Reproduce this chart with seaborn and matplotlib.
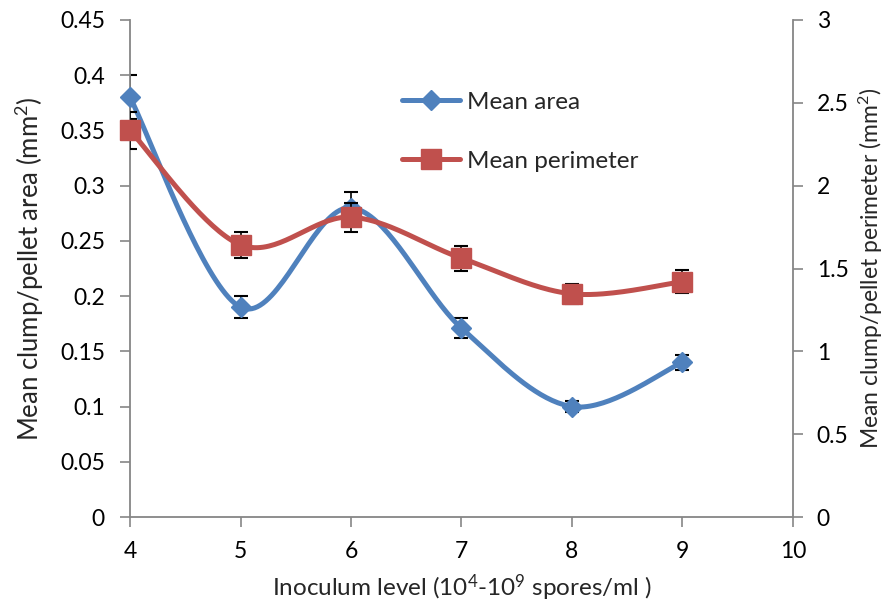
import numpy as np
import pandas as pd
import matplotlib
matplotlib.use("Agg")
import matplotlib.pyplot as plt
from matplotlib.lines import Line2D
import seaborn as sns

# ---- data ----
inoculum = [4, 5, 6, 7, 8, 9]
mean_area = [0.38, 0.19, 0.28, 0.171, 0.10, 0.14]
area_err = [0.02, 0.01, 0.014, 0.009, 0.005, 0.007]
mean_perimeter = [2.333, 1.643, 1.81, 1.562, 1.347, 1.42]
perimeter_err = [0.11, 0.08, 0.087, 0.075, 0.06, 0.07]

x_ticks = [4, 5, 6, 7, 8, 9, 10]
left_ticks = [0, 0.05, 0.1, 0.15, 0.2, 0.25, 0.3, 0.35, 0.4, 0.45]
right_ticks = [0, 0.5, 1, 1.5, 2, 2.5, 3]

BLUE = "#4F81BD"
RED = "#C0504D"

sns.set_theme(style="white")
plt.rcParams["font.family"] = ["Lato", "DejaVu Sans"]
plt.rcParams["mathtext.fontset"] = "custom"
plt.rcParams["mathtext.rm"] = "Lato"
plt.rcParams["mathtext.it"] = "Lato"


def smooth(xs, ys, n=40):
    """Excel-like smoothed line (Catmull-Rom / cubic Bezier through the points)."""
    xs = np.asarray(xs, float)
    ys = np.asarray(ys, float)
    P = np.column_stack([xs, ys])
    out = []
    for i in range(len(P) - 1):
        p0 = P[i - 1] if i > 0 else P[i]
        p1 = P[i]
        p2 = P[i + 1]
        p3 = P[i + 2] if i + 2 < len(P) else P[i + 1]
        c1 = p1 + (p2 - p0) / 6.0
        c2 = p2 - (p3 - p1) / 6.0
        t = np.linspace(0, 1, n)[:, None]
        seg = ((1 - t) ** 3) * p1 + 3 * ((1 - t) ** 2) * t * c1 + 3 * (1 - t) * t ** 2 * c2 + t ** 3 * p2
        out.append(seg if i == 0 else seg[1:])
    arr = np.vstack(out)
    return pd.DataFrame({"x": arr[:, 0], "y": arr[:, 1]})


fig = plt.figure(figsize=(8.87, 6.05), dpi=100)
ax = fig.add_axes([130 / 887, 1 - 517 / 605, (793 - 130) / 887, (517 - 20) / 605])
ax2 = ax.twinx()

# area (left axis)
ax.errorbar(inoculum, mean_area, yerr=area_err, fmt="none", ecolor="black",
            elinewidth=1.2, capsize=5, capthick=1.5, zorder=2)
sns.lineplot(data=smooth(inoculum, mean_area), x="x", y="y", ax=ax, color=BLUE,
             linewidth=3.6, sort=False, zorder=3)
ax.plot(inoculum, mean_area, linestyle="none", marker="D", markersize=10,
        color=BLUE, zorder=4, clip_on=False)

# perimeter (right axis)
ax2.errorbar(inoculum, mean_perimeter, yerr=perimeter_err, fmt="none", ecolor="black",
             elinewidth=1.2, capsize=5, capthick=1.5, zorder=2)
sns.lineplot(data=smooth(inoculum, mean_perimeter), x="x", y="y", ax=ax2, color=RED,
             linewidth=3.6, sort=False, zorder=3)
ax2.plot(inoculum, mean_perimeter, linestyle="none", marker="s", markersize=14,
         color=RED, zorder=4, clip_on=False)

ax.set_xlim(4, 10)
ax.set_ylim(0, 0.45)
ax2.set_ylim(0, 3)
ax.set_xticks(x_ticks)
ax.set_xticklabels([str(v) for v in x_ticks])
ax.set_yticks(left_ticks)
ax.set_yticklabels([f"{v:g}" for v in left_ticks])
ax2.set_yticks(right_ticks)
ax2.set_yticklabels([f"{v:g}" for v in right_ticks])

for a in (ax, ax2):
    for s in a.spines.values():
        s.set_visible(False)
ax.spines["left"].set_visible(True)
ax.spines["bottom"].set_visible(True)
ax2.spines["right"].set_visible(True)
for s in (ax.spines["left"], ax.spines["bottom"], ax2.spines["right"]):
    s.set_color("#868686")
    s.set_linewidth(1.3)

ax.tick_params(axis="both", which="major", direction="out", length=7, width=1.2,
               color="#868686", labelsize=16.5, labelcolor="black", pad=11,
               left=True, bottom=True)
ax.tick_params(axis="x", pad=10)
ax2.tick_params(axis="y", direction="out", length=7, width=1.2, color="#868686",
                labelsize=16.5, labelcolor="black", pad=10, right=True)
ax.grid(False)
ax2.grid(False)

ax.set_xlabel(r"Inoculum level (10$^{4}$-10$^{9}$ spores/ml )", fontsize=17.5, labelpad=8)
ax.set_ylabel(r"Mean clump/pellet area (mm$^{2}$)", fontsize=18.5, labelpad=10)
ax2.set_ylabel(r"Mean clump/pellet perimeter (mm$^{2}$)", fontsize=16.5, labelpad=6)

handles = [
    Line2D([0], [0], color=BLUE, linewidth=3.6, marker="D", markersize=10),
    Line2D([0], [0], color=RED, linewidth=3.6, marker="s", markersize=14),
]
fig.legend(handles, ["Mean area", "Mean perimeter"], loc="upper left",
           bbox_to_anchor=(380 / 887, 1 - 70 / 605), frameon=False, fontsize=17.5,
           handlelength=2.4, labelspacing=1.55, handletextpad=0.3)

fig.savefig("out.png", dpi=100)
